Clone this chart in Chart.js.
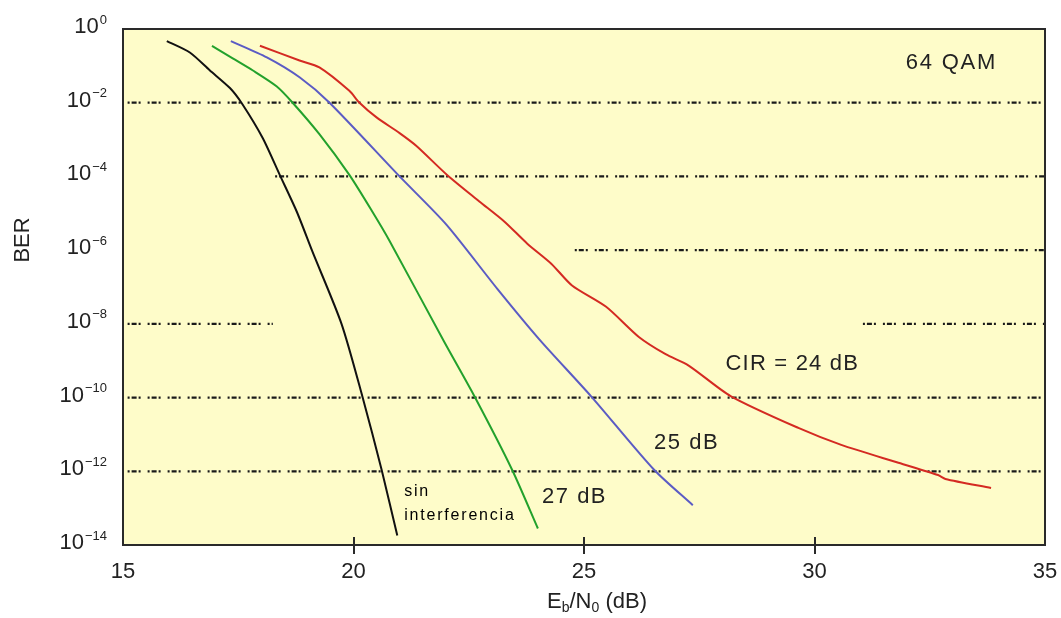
<!DOCTYPE html>
<html>
<head>
<meta charset="utf-8">
<script src="https://cdn.jsdelivr.net/npm/chart.js@4/dist/chart.umd.min.js"></script>
<style>
  html, body { margin: 0; padding: 0; background: #fff; }
  #wrap { width: 1061px; height: 618px; }
</style>
</head>
<body>
<div id="wrap"><canvas id="chart-ber" width="1061" height="618"></canvas></div>
<script>
// Eb/N0 (dB) and BER, one pair of arrays per curve
const ebnoSin = [15.95, 16.45, 16.88, 17.32, 17.58, 18.03, 18.4, 18.77, 19.11, 19.74, 20.19, 20.61, 20.95];
const berSin = [4.7e-1, 2.3e-1, 7.6e-2, 2.5e-2, 9.5e-3, 1.1e-3, 1.1e-4, 1.1e-5, 9.1e-7, 1.0e-8, 1.1e-10, 1.1e-12, 1.8e-14];

const ebno27 = [16.93, 17.38, 17.81, 18.33, 18.68, 19.26, 19.91, 20.41, 20.78, 21.97, 22.62, 23.44, 24.0];
const ber27 = [3.5e-1, 1.6e-1, 7.6e-2, 2.8e-2, 1.0e-2, 1.4e-3, 1.1e-4, 1.1e-5, 1.8e-6, 3.2e-9, 1.1e-10, 1.1e-12, 2.8e-14];

const ebno25 = [17.34, 18.12, 18.83, 19.48, 21.0, 22.01, 23.12, 24.03, 25.15, 26.52, 27.36];
const ber25 = [4.7e-1, 1.7e-1, 4.9e-2, 1.0e-2, 1.0e-4, 5.0e-6, 8.9e-8, 3.8e-9, 1.1e-10, 1.1e-12, 1.2e-13];

const ebno24 = [17.97, 18.83, 19.26, 19.91, 20.13, 20.5, 21.0, 21.36, 22.03, 22.73, 23.27, 23.77, 24.29, 24.74, 25.48, 26.19, 26.77, 27.27, 28.18, 29.65, 30.58, 31.82, 32.68, 32.84, 33.83];
const ber24 = [3.5e-1, 1.4e-1, 9.1e-2, 2.1e-2, 1.0e-2, 4.0e-3, 1.5e-3, 6.8e-4, 1.1e-4, 2.1e-5, 6.0e-6, 1.5e-6, 4.3e-7, 1.1e-7, 2.9e-8, 4.4e-9, 1.5e-9, 7.4e-10, 1.1e-10, 1.5e-11, 5.2e-12, 1.7e-12, 7.9e-13, 6.2e-13, 3.5e-13];

// axis ticks
const xTicks = [15, 20, 25, 30, 35];
const yExponents = [0, -2, -4, -6, -8, -10, -12, -14];

// dash-dot reference lines: [from dB, to dB, exponent]
const refLines = [
  [15.1, 35, -2],
  [18.3, 35, -4],
  [24.8, 35, -6],
  [15.1, 18.25, -8],
  [31.05, 35, -8],
  [15.1, 35, -10],
  [15.1, 35, -12]
];

const FONT = '"Liberation Sans", Arial, sans-serif';
const INK = "#222";

function pts(xs, ys) {
  return xs.map((x, i) => ({ x: x, y: ys[i] }));
}

const curves = [
  { data: pts(ebno24, ber24), color: "#d42a22" },
  { data: pts(ebno25, ber25), color: "#5b5bc4" },
  { data: pts(ebno27, ber27), color: "#23a12c" },
  { data: pts(ebnoSin, berSin), color: "#111111" }
].map((c) => ({
  data: c.data,
  borderColor: c.color,
  borderWidth: 2,
  pointRadius: 0,
  tension: 0.25,
  fill: false,
  order: 0
}));

const gridSets = refLines.map((r) => ({
  data: [{ x: r[0], y: Math.pow(10, r[2]) }, { x: r[1], y: Math.pow(10, r[2]) }],
  borderColor: "#1a1a1a",
  borderWidth: 2.2,
  borderDash: [2, 2, 5, 2, 2, 7],
  pointRadius: 0,
  fill: false,
  order: 5
}));

const notes = [
  { text: "64 QAM", x: 32.97, e: -0.93, size: 22, align: "center", gap: 1.8 },
  { text: "CIR = 24 dB", x: 28.07, e: -9.1, size: 22, align: "left", gap: 1.2 },
  { text: "25 dB", x: 26.52, e: -11.23, size: 22, align: "left", gap: 1.5 },
  { text: "27 dB", x: 24.09, e: -12.7, size: 22, align: "left", gap: 1.5 },
  { text: "sin", x: 21.1, e: -12.54, size: 16, align: "left", gap: 1.8 },
  { text: "interferencia", x: 21.1, e: -13.2, size: 16, align: "left", gap: 1.8 }
];

const framePlugin = {
  id: "frame",
  beforeDatasetsDraw(chart) {
    const a = chart.chartArea;
    const ctx = chart.ctx;
    ctx.save();
    ctx.fillStyle = "#fefcc9";
    ctx.fillRect(a.left, a.top, a.right - a.left, a.bottom - a.top);
    ctx.restore();
  },
  afterDatasetsDraw(chart) {
    const a = chart.chartArea;
    const ctx = chart.ctx;
    const xs = chart.scales.x;
    const ys = chart.scales.y;
    ctx.save();
    ctx.strokeStyle = "#2a2a2a";
    ctx.lineWidth = 2;
    ctx.strokeRect(a.left, a.top, a.right - a.left, a.bottom - a.top);

    // tick marks crossing the bottom axis
    xTicks.slice(1, -1).forEach((v) => {
      const px = Math.round(xs.getPixelForValue(v));
      ctx.beginPath();
      ctx.moveTo(px, a.bottom - 8);
      ctx.lineTo(px, a.bottom + 9);
      ctx.stroke();
    });

    ctx.fillStyle = INK;
    ctx.textBaseline = "middle";

    // y labels 10^n
    yExponents.forEach((e) => {
      const py = ys.getPixelForValue(Math.pow(10, e));
      const exp = e === 0 ? "0" : "\u2212" + Math.abs(e);
      ctx.font = "13px " + FONT;
      const ew = ctx.measureText(exp).width;
      const right = 107;
      ctx.textAlign = "right";
      ctx.fillText(exp, right, py - 9);
      ctx.font = "22px " + FONT;
      ctx.fillText("10", right - ew - 1, py - 2);
    });

    // y title
    ctx.save();
    ctx.translate(23, 240);
    ctx.rotate(-Math.PI / 2);
    ctx.textAlign = "center";
    ctx.font = "22px " + FONT;
    ctx.fillText("BER", 0, 0);
    ctx.restore();

    // x title with subscripts
    const parts = [
      ["E", 22, 0],
      ["b", 14, 6],
      ["/N", 22, 0],
      ["0", 14, 6],
      [" (dB)", 22, 0]
    ];
    ctx.textAlign = "left";
    let total = 0;
    parts.forEach((p) => {
      ctx.font = p[1] + "px " + FONT;
      total += ctx.measureText(p[0]).width;
    });
    let tx = 597 - total / 2;
    parts.forEach((p) => {
      ctx.font = p[1] + "px " + FONT;
      ctx.fillText(p[0], tx, 602 + p[2]);
      tx += ctx.measureText(p[0]).width;
    });

    // curve labels
    notes.forEach((n) => {
      ctx.font = n.size + "px " + FONT;
      ctx.letterSpacing = n.gap + "px";
      ctx.textAlign = n.align;
      ctx.fillStyle = n.size < 20 ? "#000" : INK;
      ctx.fillText(n.text, xs.getPixelForValue(n.x), ys.getPixelForValue(Math.pow(10, n.e)));
    });
    ctx.letterSpacing = "0px";
    ctx.restore();
  }
};

new Chart(document.getElementById("chart-ber"), {
  type: "line",
  data: { datasets: curves.concat(gridSets) },
  options: {
    responsive: false,
    animation: false,
    events: [],
    layout: { padding: { top: 29, right: 16, left: 0, bottom: 0 } },
    plugins: { legend: { display: false }, tooltip: { enabled: false } },
    scales: {
      x: {
        type: "linear",
        min: 15,
        max: 35,
        afterBuildTicks: (s) => { s.ticks = xTicks.map((v) => ({ value: v })); },
        afterFit: (s) => { s.height = 73; s.paddingLeft = 0; s.paddingRight = 0; },
        grid: { display: false, drawTicks: false },
        border: { display: false },
        ticks: { color: INK, padding: 14, maxRotation: 0, font: { family: FONT, size: 22 } }
      },
      y: {
        type: "logarithmic",
        min: 1e-14,
        max: 1,
        afterBuildTicks: (s) => { s.ticks = yExponents.map((e) => ({ value: Math.pow(10, e) })); },
        afterFit: (s) => { s.width = 123; s.paddingTop = 0; s.paddingBottom = 0; },
        grid: { display: false, drawTicks: false },
        border: { display: false },
        ticks: { display: false }
      }
    }
  },
  plugins: [framePlugin]
});
</script>
</body>
</html>
